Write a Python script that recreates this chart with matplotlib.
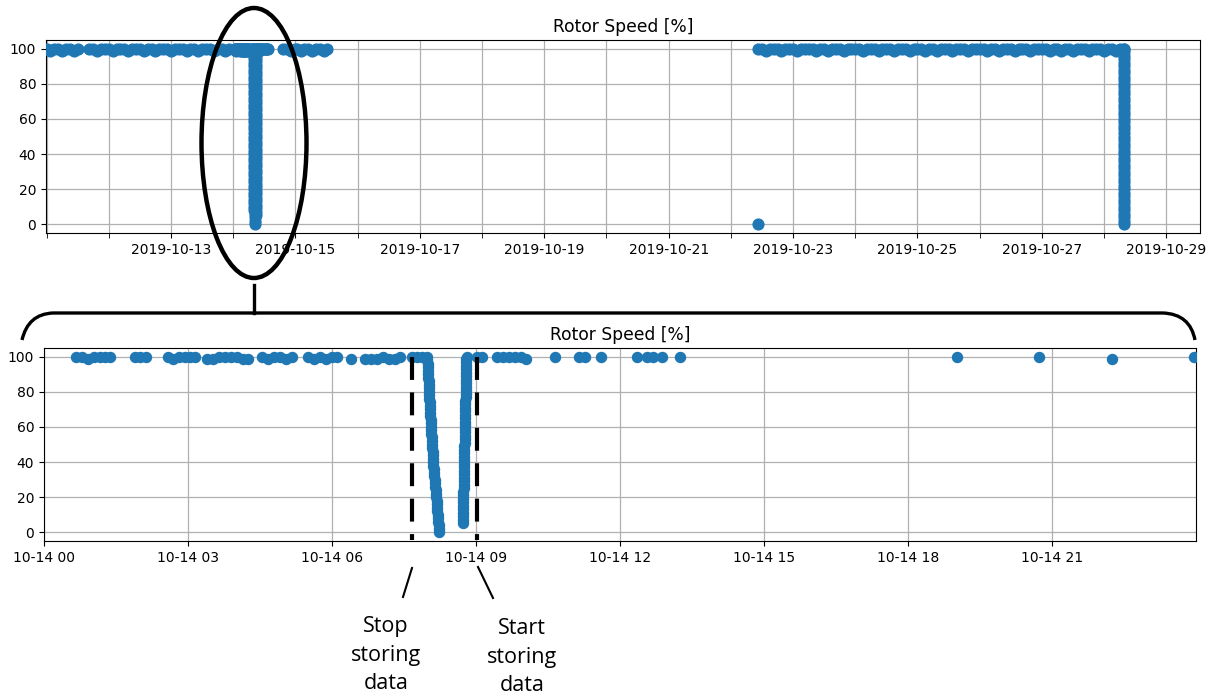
import numpy as np
import pandas as pd
import matplotlib.pyplot as plt
import matplotlib.dates as mdates
from matplotlib.patches import Ellipse, PathPatch
from matplotlib.path import Path
from matplotlib.lines import Line2D

# ---- data -------------------------------------------------------------
# 2019-10-14, hours after midnight, rotor speed in %
day14_hours = [0.667, 0.792, 0.917, 1.042, 1.167, 1.271, 1.375,
               1.896, 2.0, 2.125,
               2.583, 2.688, 2.813, 2.938, 3.042, 3.146,
               3.396, 3.521, 3.646, 3.771, 3.896, 4.021, 4.146, 4.25,
               4.542, 4.667, 4.792, 4.917, 5.042, 5.167,
               5.5, 5.625, 5.75, 5.875, 6.0, 6.104,
               6.396,
               6.688, 6.813, 6.938, 7.063, 7.188, 7.313, 7.417,
               7.667, 7.771, 7.875]
day14_speed = [100, 100, 99, 100, 100, 100, 100,
               100, 100, 100,
               100, 99, 100, 100, 100, 100,
               99, 99, 100, 100, 100, 100, 99, 99,
               100, 99, 100, 100, 99, 100,
               100, 99, 100, 99, 100, 100,
               99,
               99, 99, 99, 100, 99, 99, 100,
               100, 100, 100]

# shutdown ramp
stop_hours = [7.98, 7.984, 7.988, 7.992, 7.996, 8.0, 8.004, 8.008, 8.012, 8.016, 8.02,
              8.024, 8.028, 8.032, 8.036, 8.04, 8.044, 8.048, 8.052, 8.056, 8.06,
              8.064, 8.069, 8.073, 8.078, 8.082, 8.087, 8.091, 8.096, 8.1, 8.105,
              8.111, 8.118, 8.124, 8.131, 8.137, 8.144, 8.15, 8.157, 8.163, 8.17,
              8.176, 8.182, 8.188, 8.194, 8.2, 8.206, 8.212, 8.218, 8.225, 8.232]
stop_speed = [100, 98, 96, 94, 92, 90, 88, 86, 84, 82, 80,
              78, 76, 74, 72, 70, 68, 66, 64, 62, 60,
              58, 56, 54, 52, 50, 48, 46, 44, 42, 40,
              38, 36, 34, 32, 30, 28, 26, 24, 22, 20,
              18, 16, 14, 12, 10, 8, 6, 4, 2, 0]

# restart ramp
start_hours = [8.720, 8.722, 8.723, 8.725, 8.727, 8.728, 8.730, 8.732, 8.733, 8.735,
               8.737, 8.738, 8.740, 8.742, 8.743, 8.745, 8.747, 8.748, 8.750, 8.752,
               8.753, 8.755, 8.757, 8.758, 8.760, 8.762, 8.763, 8.765, 8.767, 8.768,
               8.770, 8.772, 8.773, 8.775, 8.777, 8.778, 8.780, 8.782, 8.783, 8.785,
               8.787, 8.788, 8.790, 8.792, 8.793, 8.795, 8.797, 8.798, 8.800]
start_speed = [5, 7, 9, 11, 13, 15, 17, 19, 21, 23,
               25, 27, 29, 31, 33, 35, 37, 39, 41, 43,
               45, 47, 49, 51, 53, 55, 57, 59, 61, 63,
               65, 67, 69, 71, 73, 75, 77, 79, 81, 83,
               85, 87, 89, 91, 93, 95, 97, 99, 100]

late_hours = [9.02, 9.125, 9.438, 9.563, 9.688, 9.813, 9.938, 10.04,
              10.646, 11.146, 11.27, 11.604,
              12.354, 12.563, 12.688, 12.875, 13.25,
              19.02, 20.73, 22.25, 23.96]
late_speed = [100, 100, 100, 100, 100, 100, 100, 99,
              100, 100, 100, 100,
              100, 100, 100, 100, 100,
              100, 100, 99, 100]

# other days (top chart only), hours after the base date
oct11_hours = [0.3, 1.5, 3, 4.5, 6, 7.5, 9, 10.5, 12,
               16.5, 18, 19.5, 21, 22.5, 24, 25.5, 27, 28.5, 30,
               31.5, 33, 34.5, 36, 37.5, 39, 40.5, 42, 43.5, 45,
               46.5, 48, 49.5, 51, 52.5, 54, 55.5, 57, 58.5, 60,
               61.5, 63, 64.5, 66, 67.5, 69, 70.5]
oct11_speed = [100, 99, 100, 100, 99, 100, 100, 99, 100,
               100, 100, 99, 100, 100, 100, 99, 100, 100, 100,
               99, 100, 100, 100, 99, 100, 100, 99, 100, 100,
               100, 99, 100, 100, 100, 99, 100, 100, 99, 100,
               100, 100, 99, 100, 100, 99, 100]

oct15_hours = [0.5, 2, 3.5, 5, 6.5, 8, 9.5, 11, 12.2]
oct15_speed = [100, 99, 100, 100, 99, 100, 100, 99, 100]

oct22_hours = [10.33,
               10.5, 12, 13.5, 15, 16.5, 18, 19.5, 21, 22.5, 24,
               25.5, 27, 28.5, 30, 31.5, 33, 34.5, 36, 37.5, 39,
               40.5, 42, 43.5, 45, 46.5, 48, 49.5, 51, 52.5, 54,
               55.5, 57, 58.5, 60, 61.5, 63, 64.5, 66, 67.5, 69,
               70.5, 72, 73.5, 75, 76.5, 78, 79.5, 81, 82.5, 84,
               85.5, 87, 88.5, 90, 91.5, 93, 94.5, 96, 97.5, 99,
               100.5, 102, 103.5, 105, 106.5, 108, 109.5, 111, 112.5, 114,
               115.5, 117, 118.5, 120, 121.5, 123, 124.5, 126, 127.5, 129,
               130.5, 132, 133.5, 135, 136.5, 138, 139.5, 141, 142.5, 144,
               145.5, 147, 148.5, 150, 151.5,
               151.67, 151.67, 151.67, 151.67, 151.68, 151.68, 151.68, 151.68, 151.69, 151.69,
               151.69, 151.69, 151.70, 151.70, 151.70, 151.70, 151.71, 151.71, 151.71, 151.71,
               151.72, 151.72, 151.72, 151.72, 151.73, 151.73, 151.73, 151.73, 151.74, 151.74,
               151.74, 151.74, 151.75, 151.75, 151.75, 151.75, 151.76, 151.76, 151.76, 151.76,
               151.77, 151.77, 151.77, 151.78, 151.78, 151.78, 151.79, 151.79, 151.80, 151.80,
               151.81]
oct22_speed = [0,
               100, 100, 99, 100, 100, 100, 99, 100, 100, 100,
               99, 100, 100, 100, 100, 99, 100, 100, 99, 100,
               100, 100, 99, 100, 100, 100, 100, 99, 100, 100,
               100, 99, 100, 100, 100, 99, 100, 100, 100, 99,
               100, 100, 100, 99, 100, 100, 99, 100, 100, 100,
               99, 100, 100, 100, 99, 100, 100, 100, 100, 99,
               100, 100, 99, 100, 100, 100, 99, 100, 100, 100,
               99, 100, 100, 100, 100, 99, 100, 100, 99, 100,
               100, 99, 100, 100, 100, 99, 100, 100, 100, 99,
               100, 100, 99, 100, 100,
               100, 98, 96, 94, 92, 90, 88, 86, 84, 82,
               80, 78, 76, 74, 72, 70, 68, 66, 64, 62,
               60, 58, 56, 54, 52, 50, 48, 46, 44, 42,
               40, 38, 36, 34, 32, 30, 28, 26, 24, 22,
               20, 18, 16, 14, 12, 10, 8, 6, 4, 2,
               0]

stop_start_marks = [7.67, 9.02]  # hours on 2019-10-14


# ---- assemble ---------------------------------------------------------
def stamps(base, hours):
    return pd.Timestamp(base) + pd.to_timedelta(np.array(hours, dtype=float), unit='h')


h14 = day14_hours + stop_hours + start_hours + late_hours
v14 = day14_speed + stop_speed + start_speed + late_speed
t14 = stamps('2019-10-14', h14)

t_all = np.concatenate([stamps('2019-10-11', oct11_hours), t14,
                        stamps('2019-10-15', oct15_hours),
                        stamps('2019-10-22', oct22_hours)])
v_all = oct11_speed + v14 + oct15_speed + oct22_speed

# ---- figure -----------------------------------------------------------
W, H = 1215, 697
fig = plt.figure(figsize=(W / 100, H / 100), dpi=100)
blue = '#1f77b4'


def fx(x):
    return x / W


def fy(y):
    return 1 - y / H


ax1 = fig.add_axes([fx(46), fy(233), (1200 - 46) / W, 193 / H])
ax1.scatter(t_all, v_all, s=60, color=blue, zorder=3)
ax1.set_xlim(pd.Timestamp('2019-10-10 23:46'), pd.Timestamp('2019-10-29 13:00'))
ax1.set_ylim(-5, 105)
ax1.set_yticks([0, 20, 40, 60, 80, 100])
ax1.xaxis.set_major_locator(mdates.DayLocator(bymonthday=list(range(13, 30, 2))))
ax1.xaxis.set_minor_locator(mdates.DayLocator())
ax1.xaxis.set_major_formatter(mdates.DateFormatter('%Y-%m-%d'))
ax1.tick_params(axis='x', which='minor', length=3.5)
ax1.grid(True, which='both', color='#b0b0b0', lw=0.9)
ax1.set_title('Rotor Speed [%]', fontsize=12.3)

ax2 = fig.add_axes([fx(44), fy(541), (1196 - 44) / W, 193 / H])
ax2.scatter(t14, v14, s=52, color=blue, zorder=3)
ax2.set_xlim(pd.Timestamp('2019-10-14 00:00'), pd.Timestamp('2019-10-14 23:59:30'))
ax2.set_ylim(-5, 105)
ax2.set_yticks([0, 20, 40, 60, 80, 100])
ax2.xaxis.set_major_locator(mdates.HourLocator(byhour=range(0, 24, 3)))
ax2.xaxis.set_major_formatter(mdates.DateFormatter('%m-%d %H'))
ax2.grid(True, color='#b0b0b0', lw=0.9)
ax2.set_title('Rotor Speed [%]', fontsize=12.3)

for ax in (ax1, ax2):
    ax.tick_params(labelsize=10)

# dashed stop/start lines
for t in stamps('2019-10-14', stop_start_marks):
    ax2.plot([t, t], [100, -4.5], color='black', lw=3, ls=(0, (5.5, 3)),
             zorder=4, clip_on=False)

# ---- annotations in figure coordinates ---------------------------------
ell = Ellipse((fx(254), fy(143)), 105 / W, 270 / H, transform=fig.transFigure,
              fill=False, ec='black', lw=3.2)
fig.patches.append(ell)

fig.add_artist(Line2D([fx(254), fx(254)], [fy(285), fy(313)],
                      transform=fig.transFigure, color='black', lw=2.4))

verts = [(fx(22), fy(340)), (fx(28), fy(314)), (fx(53), fy(313)),
         (fx(1163), fy(313)),
         (fx(1190), fy(314)), (fx(1195), fy(340))]
codes = [Path.MOVETO, Path.CURVE3, Path.CURVE3, Path.LINETO,
         Path.CURVE3, Path.CURVE3]
fig.patches.append(PathPatch(Path(verts, codes), transform=fig.transFigure,
                             fill=False, ec='black', lw=2.4))

fig.add_artist(Line2D([fx(412), fx(403)], [fy(568), fy(597)],
                      transform=fig.transFigure, color='black', lw=1.5))
fig.add_artist(Line2D([fx(478), fx(493)], [fy(567), fy(598)],
                      transform=fig.transFigure, color='black', lw=1.5))

fig.text(fx(386), fy(655), 'Stop\nstoring\ndata', ha='center', va='center',
         fontsize=15.5, family='Open Sans', linespacing=1.47)
fig.text(fx(522), fy(657), 'Start\nstoring\ndata', ha='center', va='center',
         fontsize=15.5, family='Open Sans', linespacing=1.47)

fig.savefig('out.png', dpi=100)
